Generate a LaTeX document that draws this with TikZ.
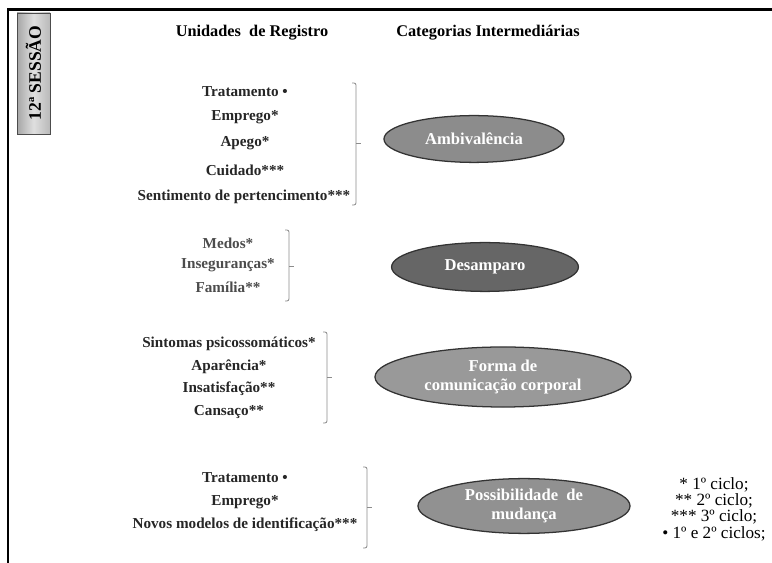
\documentclass[tikz,border=0pt]{standalone}
\usepackage{fontspec}
\setmainfont{Liberation Serif}
\usetikzlibrary{positioning}
\usetikzlibrary{shapes.geometric}

\definecolor{catA}{gray}{0.55}
\definecolor{catB}{gray}{0.40}
\definecolor{catC}{gray}{0.60}
\definecolor{catD}{gray}{0.57}

\tikzset{
  unidade/.style={font=\bfseries\fontsize{10.8}{12}\selectfont, text=black!85, inner sep=0pt},
  titulo/.style={font=\bfseries\fontsize{11.6}{13}\selectfont, inner sep=0pt},
  categoria/.style={ellipse, draw=black!80, line width=0.9pt, text=white,
    font=\bfseries\fontsize{11.8}{14}\selectfont, align=center, inner sep=0pt},
  chave/.style={draw=black!45, line width=0.6pt, rounded corners=1.5pt},
}

% colchete: x, y topo, y base, y meio
\newcommand{\colchete}[4]{
  \draw[chave] (#1-4,#2) -- (#1,#2) -- (#1,#3) -- (#1-4,#3);
  \draw[chave] (#1,#4) -- (#1+5,#4);
}

\begin{document}
\begin{tikzpicture}[x=0.025cm, y=-0.025cm]
\useasboundingbox (0,0) rectangle (772,563);
\draw[line width=1.6pt] (8,563) -- (8,9.5) -- (772,9.5);

\shade[left color=gray!70, right color=gray!55, middle color=gray!25, draw=black!70, line width=0.6pt]
  (17,13) rectangle (50,134);
\node[rotate=90, font=\bfseries\fontsize{12.5}{14}\selectfont] (sessao) at (33.5,73) {12ª SESSÃO};

\node[titulo] (unidades) at (252,33) {Unidades\ \ de Registro};
\node[titulo] (categorias) at (488,33) {Categorias Intermediárias};

% bloco 1
\node[unidade] (u1) at (245,92) {Tratamento •};
\node[unidade] (u2) at (245,117) {Emprego*};
\node[unidade] (u3) at (245,143) {Apego*};
\node[unidade] (u4) at (245,170) {Cuidado***};
\node[unidade] (u5) at (244,197) {Sentimento de pertencimento***};
\colchete{356}{83}{205}{143}
\node[categoria, fill=catA, minimum width=4.5cm, minimum height=1.17cm] (ambivalencia) at (474,139) {Ambivalência};

% bloco 2
\node[unidade, text=black!70] (u6) at (228,243) {Medos*};
\node[unidade, text=black!70] (u7) at (228,265) {Inseguranças*};
\node[unidade, text=black!70] (u8) at (228,287) {Família**};
\colchete{289}{230}{301}{266}
\node[categoria, fill=catB, minimum width=4.67cm, minimum height=1.22cm] (desamparo) at (485,267) {Desamparo};

% bloco 3
\node[unidade] (u9) at (229,344) {Sintomas psicossomáticos*};
\node[unidade] (u10) at (229,367) {Aparência*};
\node[unidade] (u11) at (229,389) {Insatisfação**};
\node[unidade] (u12) at (229,412) {Cansaço**};
\colchete{327}{332}{423}{377}
\node[categoria, fill=catC, minimum width=6.4cm, minimum height=1.5cm] (forma) at (503,377) {Forma de\\comunicação corporal};

% bloco 4
\node[unidade] (u13) at (245,478) {Tratamento •};
\node[unidade] (u14) at (245,502) {Emprego*};
\node[unidade] (u15) at (245,525) {Novos modelos de identificação***};
\colchete{367}{467}{548}{507}
\node[categoria, fill=catD, minimum width=5.3cm, minimum height=1.37cm] (mudanca) at (524,506) {Possibilidade\ \ de\\mudança};

\node[align=center, font=\fontsize{12.2}{11.6}\selectfont, inner sep=0pt] (legenda) at (714,509)
  {* 1º ciclo;\\** 2º ciclo;\\*** 3º ciclo;\\• 1º e 2º ciclos;};
\end{tikzpicture}
\end{document}
